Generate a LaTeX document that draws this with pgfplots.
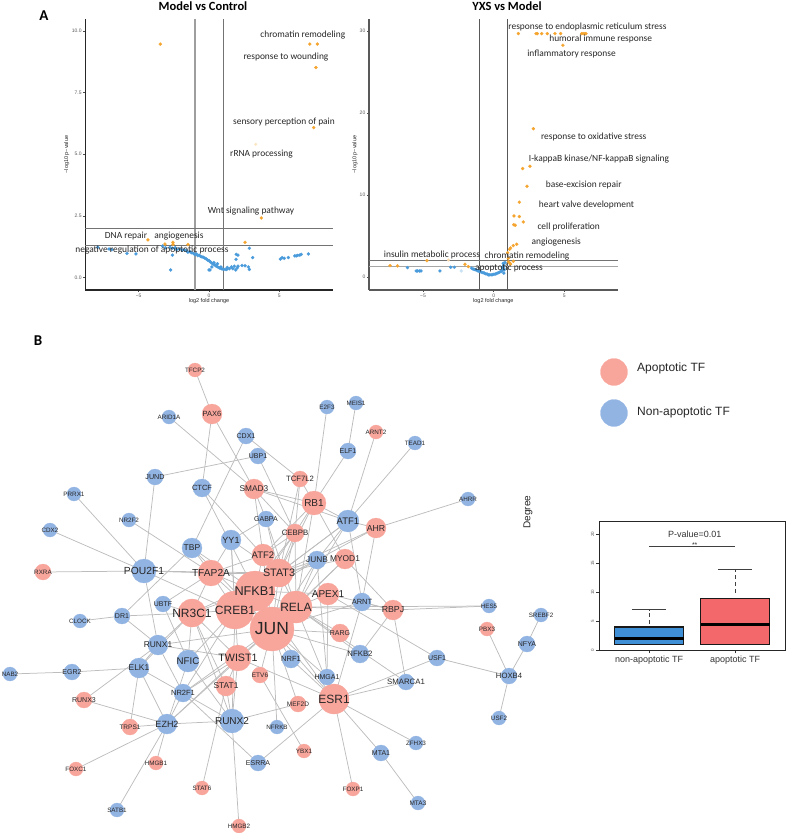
\documentclass[border=0pt]{standalone}
\usepackage{fontspec}
\usepackage{pgfplots}
\usepackage{pgfplotstable}
\pgfplotsset{compat=1.18}
\setmainfont{Liberation Sans}
\newfontfamily\calibri{Carlito}
\definecolor{nred}{HTML}{F8A59C}
\definecolor{nblue}{HTML}{92B4E3}
\definecolor{vor}{HTML}{F5A52F}
\definecolor{vbl}{HTML}{4A9BDB}
\definecolor{bxb}{HTML}{3F8FD6}
\definecolor{bxr}{HTML}{F2686B}
\definecolor{edge}{HTML}{BDBDBD}
\pgfplotstableread{
x y r fs name
195 370 7 6.3 TFCP2
212 414 10 7.5 PAX6
254 489 10 8.3 SMAD3
263 555 11 9.5 ATF2
295 533 9 7.8 CEBPB
300 479 8 7.7 TCF7L2
314 503 12 10 RB1
376 528 10 8.7 AHR
376 432 7 6.3 ARNT2
345 559 10 8.4 MYOD1
279 573 14 10.8 STAT3
211 573 13 10.2 TFAP2A
43 572 8 6.3 RXRA
255 591 20 12.7 NFKB1
296 607 16 12 RELA
235 610 19 12 CREB1
192 613 14 12 NR3C1
272 629 22 17.5 JUN
328 594 11 10 APEX1
393 610 10 8.8 RBPJ
340 633 9 7 RARG
238 658 13 10.7 TWIST1
226 686 10 8.4 STAT1
260 675 8 6.5 ETV6
298 704 8 6.5 MEF2D
334 699 15 12 ESR1
304 751 7 6.3 YBX1
353 789 7 6.3 FOXP1
487 629 7 6.3 PBX3
84 700 8 7 RUNX3
130 727 8 6.5 TRPS1
156 763 7 6.3 HMGB1
76 769 7 6.3 FOXC1
202 788 7 6.3 STAT6
239 826 7 6.3 HMGB2
}\redtable
\pgfplotstableread{
x y r fs name
169 417 7 6.3 ARID1A
246 436 8 7 CDX1
258 456 8 7 UBP1
155 477 8 7.2 JUND
202 488 9 7.5 CTCF
74 494 7 6.3 PRRX1
129 520 7 6.3 NR2F2
50 530 7 6.3 CDX2
266 519 8 7 GABPA
231 540 10 9 YY1
192 548 10 8.5 TBP
144 571 12 10.3 POU2F1
327 407 7 6.3 E2F3
356 403 7 6.3 MEIS1
348 451 8 7 ELF1
415 443 7 6.3 TEAD1
468 499 7 6.3 AHRR
348 521 11 9.5 ATF1
317 560 9 8.3 JUNB
362 602 9 7.5 ARNT
489 606 7 6.3 HES5
541 615 7 6.3 SREBF2
527 644 8 7 NFYA
437 658 8 7 USF1
509 676 8 7.7 HOXB4
406 682 8 7.8 SMARCA1
499 718 7 6.3 USF2
360 654 9 7.8 NFKB2
291 659 9 7.5 NRF1
327 677 8 7 HMGA1
416 743 7 6.3 ZFHX3
381 753 8 7 MTA1
418 803 7 6.5 MTA3
163 604 8 7 UBTF
122 616 8 7 DR1
80 621 7 6.3 CLOCK
158 645 10 8.4 RUNX1
188 661 11 9.7 NFIC
139 668 10 8.4 ELK1
72 672 8 7 EGR2
10 674 7 6.3 NAB2
183 693 9 7.5 NR2F1
167 724 10 9 EZH2
232 721 12 10 RUNX2
277 727 7 6.3 NFRKB
258 763 8 7 ESRRA
117 810 7 6.3 SATB1
}\bluetable
\pgfplotstableread{
x1 y1 x2 y2
195 370 212 414
212 414 202 488
212 414 254 489
169 417 254 489
246 436 192 548
246 436 300 479
258 456 155 477
258 456 295 533
155 477 144 571
74 494 144 571
50 530 144 571
43 572 144 571
129 520 211 573
144 571 211 573
144 571 279 573
144 571 272 629
202 488 279 573
202 488 255 591
254 489 266 519
254 489 314 503
254 489 295 533
254 489 263 555
254 489 348 521
300 479 279 573
300 479 295 533
300 479 314 503
327 407 314 503
348 451 314 503
356 403 348 451
376 432 348 521
415 443 348 521
468 499 376 528
314 503 348 521
314 503 279 573
314 503 345 559
314 503 263 555
314 503 295 533
314 503 296 607
348 521 376 528
348 521 317 560
348 521 279 573
348 521 296 607
348 521 255 591
348 521 362 602
376 528 279 573
376 528 362 602
376 528 317 560
266 519 231 540
266 519 279 573
266 519 296 607
231 540 211 573
231 540 279 573
231 540 235 610
231 540 238 658
192 548 211 573
192 548 272 629
192 548 255 591
192 548 122 616
263 555 211 573
263 555 272 629
263 555 255 591
263 555 295 533
295 533 272 629
295 533 279 573
295 533 255 591
295 533 296 607
295 533 235 610
279 573 272 629
279 573 296 607
279 573 255 591
279 573 235 610
279 573 211 573
279 573 192 613
345 559 272 629
345 559 279 573
345 559 296 607
345 559 393 610
317 560 296 607
317 560 272 629
317 560 255 591
317 560 279 573
317 560 235 610
317 560 327 677
211 573 255 591
211 573 235 610
211 573 272 629
211 573 192 613
211 573 163 604
255 591 272 629
255 591 296 607
255 591 235 610
255 591 192 613
255 591 328 594
235 610 272 629
235 610 192 613
235 610 232 721
235 610 183 693
235 610 296 607
296 607 272 629
296 607 328 594
296 607 393 610
296 607 489 606
393 610 489 606
296 607 360 654
296 607 340 633
296 607 334 699
328 594 437 658
328 594 393 610
328 594 327 677
362 602 334 699
362 602 272 629
362 602 393 610
272 629 340 633
272 629 360 654
296 607 406 682
272 629 291 659
272 629 327 677
272 629 334 699
272 629 298 704
272 629 260 675
272 629 238 658
272 629 158 645
272 629 277 727
272 629 183 693
272 629 167 724
192 613 122 616
122 616 80 621
122 616 158 645
163 604 188 661
163 604 192 613
192 613 188 661
192 613 158 645
192 613 139 668
192 613 226 686
192 613 232 721
192 613 238 658
144 571 158 645
158 645 139 668
158 645 183 693
158 645 238 658
188 661 232 721
188 661 167 724
188 661 235 610
139 668 72 672
72 672 10 674
139 668 183 693
139 668 167 724
139 668 130 727
84 700 158 645
84 700 167 724
130 727 167 724
167 724 156 763
167 724 76 769
167 724 117 810
167 724 232 721
167 724 238 658
167 724 183 693
183 693 238 658
183 693 232 721
183 693 258 763
226 686 202 788
226 686 238 658
232 721 238 658
232 721 239 826
232 721 298 704
232 721 226 686
258 763 334 699
260 675 304 751
238 658 334 699
255 591 334 699
334 699 327 677
334 699 291 659
334 699 381 753
334 699 416 743
334 699 353 789
334 699 437 658
334 699 406 682
381 753 418 803
393 610 360 654
393 610 406 682
437 658 509 676
509 676 487 629
509 676 527 644
527 644 541 615
509 676 499 718
}\edgetable
\pgfplotsset{
  vol/.style={
    scale only axis, axis x line=bottom, axis y line=left,
    axis line style={-, line width=1.3pt}, clip=false,
    tick align=outside, tick style={black!70, line width=.4pt}, major tick length=2pt,
    /pgf/number format/assume math mode=true,
    ticklabel style={font=\fontsize{5}{5}\selectfont, text=black!65, inner sep=1.5pt},
    label style={font=\fontsize{5.5}{5.5}\selectfont, text=black!85, inner sep=0pt},
  },
  vdot/.style={only marks, mark=*, mark size=#1, forget plot},
}
% one mark per table row, its size read from the table
\newcommand\nodemarks[2]{%
  \pgfplotstablegetrowsof{#1}%
  \pgfmathtruncatemacro{\nrows}{\pgfplotsretval-1}%
  \pgfplotsinvokeforeach{0,...,\nrows}{%
    \pgfplotstablegetelem{##1}{x}\of{#1}\edef\nx{\pgfplotsretval}%
    \pgfplotstablegetelem{##1}{y}\of{#1}\edef\ny{\pgfplotsretval}%
    \pgfplotstablegetelem{##1}{r}\of{#1}\edef\nr{\pgfplotsretval}%
    \edef\temp{\noexpand\addplot[only marks, mark=*, mark size=\nr pt, mark options={draw=#2, fill=#2, line width=.25pt}, forget plot] coordinates {(\nx,\ny)};}%
    \temp
  }%
}
\newcommand\nodelabels[1]{%
  \pgfplotstablegetrowsof{#1}%
  \pgfmathtruncatemacro{\nrows}{\pgfplotsretval-1}%
  \pgfplotsinvokeforeach{0,...,\nrows}{%
    \pgfplotstablegetelem{##1}{x}\of{#1}\edef\nx{\pgfplotsretval}%
    \pgfplotstablegetelem{##1}{y}\of{#1}\edef\ny{\pgfplotsretval}%
    \pgfplotstablegetelem{##1}{fs}\of{#1}\edef\nf{\pgfplotsretval}%
    \pgfplotstablegetelem{##1}{name}\of{#1}\edef\nn{\pgfplotsretval}%
    \edef\temp{\noexpand\node[inner sep=0pt, text=black!85, font=\noexpand\rmfamily\noexpand\fontsize{\nf}{\nf}\noexpand\selectfont] at (axis cs:\nx,\ny) {\nn};}%
    \temp
  }%
}
\begin{document}
\begin{tikzpicture}
\useasboundingbox (0pt,0pt) rectangle (787pt,833pt);
% full-page axis for the network (pixel coordinates)
\begin{axis}[at={(0pt,0pt)}, anchor=south west, scale only axis, width=787pt, height=833pt,
  xmin=0, xmax=787, ymin=0, ymax=833, y dir=reverse, hide axis, clip=false]
\pgfplotstablegetrowsof{\edgetable}
\pgfmathtruncatemacro{\nedges}{\pgfplotsretval-1}
\pgfplotsinvokeforeach{0,...,\nedges}{
  \pgfplotstablegetelem{#1}{x1}\of{\edgetable}\edef\xa{\pgfplotsretval}
  \pgfplotstablegetelem{#1}{y1}\of{\edgetable}\edef\ya{\pgfplotsretval}
  \pgfplotstablegetelem{#1}{x2}\of{\edgetable}\edef\xb{\pgfplotsretval}
  \pgfplotstablegetelem{#1}{y2}\of{\edgetable}\edef\yb{\pgfplotsretval}
  \edef\temp{\noexpand\addplot[edge, line width=.75pt, forget plot] coordinates {(\xa,\ya)(\xb,\yb)};}
  \temp
}
\nodemarks{\redtable}{nred}
\nodemarks{\bluetable}{nblue}
% legend symbols
\addplot[only marks, mark=*, mark size=13.5pt, mark options={draw=nred, fill=nred, line width=.25pt}, forget plot] coordinates {(614,372)};
\addplot[only marks, mark=*, mark size=13.5pt, mark options={draw=nblue, fill=nblue, line width=.25pt}, forget plot] coordinates {(614,413)};
% panel letters and headings
\node[font=\calibri\bfseries\fontsize{15}{15}\selectfont] at (axis cs:44,16) {A};
\node[font=\calibri\bfseries\fontsize{15}{15}\selectfont] at (axis cs:38,341) {B};
\node[font=\calibri\bfseries\fontsize{12.5}{12.5}\selectfont] at (axis cs:203,6) {Model vs Control};
\node[font=\calibri\bfseries\fontsize{12.5}{12.5}\selectfont] at (axis cs:507,6) {YXS vs Model};
% legend text
\node[anchor=west, inner sep=0pt, font=\fontsize{12}{12}\selectfont, text=black!85] at (axis cs:637,368) {Apoptotic TF};
\node[anchor=west, inner sep=0pt, font=\fontsize{12}{12}\selectfont, text=black!85] at (axis cs:637,412) {Non-apoptotic TF};
\node[rotate=90, font=\fontsize{10}{10}\selectfont, text=black!85] at (axis cs:528,512) {Degree};
\end{axis}
% Volcano left
\begin{axis}[vol, at={(85.3pt,543pt)}, anchor=south west, width=247.4pt, height=271pt,
  xmin=-8.79, xmax=8.79, ymin=-0.515, ymax=10.49,
  xtick={-5,0,5}, xticklabels={−5,0,5}, ytick={0,2.5,5,7.5,10},
  yticklabels={0.0,2.5,5.0,7.5,10.0},
  xlabel={log2 fold change}, ylabel={−log10 p−value},
  every axis x label/.append style={at={(axis description cs:0.5,-0.0395)}, anchor=center},
  every axis y label/.append style={at={(axis description cs:-0.075,0.5)}, anchor=center},
  axis line style={black!85}]
\addplot[black!38, line width=1.4pt] coordinates {(-1,-0.515)(-1,10.49)};
\addplot[black!55, line width=1pt] coordinates {(1,-0.515)(1,10.49)};
\addplot[black!55, line width=.8pt] coordinates {(-8.79,2)(8.79,2)};
\addplot[black!55, line width=.8pt] coordinates {(-8.79,1.3)(8.79,1.3)};
\addplot[vdot=1.6pt, mark options={draw=vor, fill=vor, line width=.2pt}] coordinates {
(-3.46,9.47)(7.16,9.47)(7.7,9.47)(7.6,8.52)(7.44,6.08)(3.72,2.41)(2.56,1.42)(-4.34,1.52)(-3.13,1.35)(-2.56,1.42)(-2.56,1.34)(-1.49,1.33)};
\addplot[vdot=1.4pt, mark options={draw=vor!30, fill=vor!30, line width=.2pt}] coordinates {(3.32,5.4)};
\addplot[vdot=1.6pt, mark options={draw=vbl, fill=vbl, line width=.2pt}] coordinates {
(-7.9,1.22)(-7.1,1.15)(-6.9,1.12)(-5.83,0.97)(-5.19,0.95)(-2.73,0.3)(-2.6,0.9)(-3.3,1.27)(-3.1,1.2)(-2.77,1.22)(-2.6,1.18)(-2.4,1.2)(-2.3,1.12)(-2.1,1.15)(-1.9,1.1)(-1.75,1.12)(-1.6,1.08)(-1.5,1.02)(-1.35,1.04)(-1.25,1.0)(-1.1,0.97)(-1.0,0.92)(-0.9,0.95)(-0.8,0.88)(-0.7,0.9)(-0.6,0.85)(-0.5,0.83)(-0.4,0.81)(-0.3,0.78)(-0.2,0.75)(-0.1,0.7)(0,0.68)(0.07,0.64)(0.15,0.6)(0.25,0.55)(0.2,0.42)(0.35,0.52)(0.43,0.5)(0.5,0.46)(0.6,0.43)(0.7,0.4)(0.78,0.37)(0.85,0.42)(0.9,0.35)(1.0,0.33)(1.14,0.32)(1.25,0.32)(1.3,0.4)(1.45,0.35)(1.6,0.42)(1.7,0.35)(1.8,0.45)(1.9,0.3)(2.0,0.38)(2.06,0.45)(2.56,0.47)(2.35,0.48)(2.87,0.32)(2.8,0.42)(1.94,0.93)(2.06,0.9)(1.92,0.73)(2.87,1.18)(3.1,0.8)(0.07,0.3)(0,0.3)(0.6,0.55)(0.35,0.6)(5.07,0.74)(5.2,0.8)(5.35,0.77)(5.64,0.8)(6.1,0.87)(6.2,0.87)(6.3,0.89)(6.45,0.9)(6.55,0.93)(7.06,0.95)};
\end{axis}
% Volcano right
\begin{axis}[vol, at={(369pt,543pt)}, anchor=south west, width=248.7pt, height=271pt,
  xmin=-8.82, xmax=8.78, ymin=-1.55, ymax=31.46,
  xtick={-5,0,5}, xticklabels={−5,0,5}, ytick={0,10,20,30},
  xlabel={log2 fold change}, ylabel={−log10 p−value},
  every axis x label/.append style={at={(axis description cs:0.5,-0.0395)}, anchor=center},
  every axis y label/.append style={at={(axis description cs:-0.056,0.5)}, anchor=center},
  axis line style={black!65}]
\addplot[black!65, line width=.8pt] coordinates {(-1,-1.55)(-1,31.46)};
\addplot[black!65, line width=.8pt] coordinates {(1,-1.55)(1,31.46)};
\addplot[black!55, line width=.8pt] coordinates {(-8.82,2)(8.78,2)};
\addplot[black!35, line width=1.2pt] coordinates {(-8.82,1.3)(8.78,1.3)};
\addplot[vdot=1.6pt, mark options={draw=vor, fill=vor, line width=.2pt}] coordinates {
(1.75,29.68)(3.0,29.68)(3.09,29.68)(3.4,29.68)(3.8,29.68)(4.34,29.68)(4.74,29.68)(6.23,29.68)(6.34,29.68)(6.46,29.68)(6.53,29.68)(4.9,28.26)(2.81,18.1)(2.57,13.52)(2.05,13.24)(2.36,11.08)(1.82,9.14)(1.44,7.47)(1.82,7.39)(2.1,6.74)(1.42,6.41)(1.53,6.33)(1.63,4.02)(1.39,3.86)(1.2,3.57)(1.13,3.41)(0.99,3.0)(1.04,2.31)(1.39,1.95)(1.16,1.7)(1.05,1.9)(1.2,1.6)(-4.72,2.03)(-2.03,1.58)(-1.79,1.3)(-7.33,1.42)(-6.8,1.38)};
\addplot[vdot=1.4pt, mark options={draw=vor!40, fill=vor!40, line width=.2pt}] coordinates {(-3.2,2.1)};
\addplot[vdot=1.6pt, mark options={draw=vbl!30, fill=vbl!30, line width=.2pt}] coordinates {(-2.29,.77)};
\addplot[vdot=1.6pt, mark options={draw=vbl, fill=vbl, line width=.2pt}] coordinates {
(-6.1,1.18)(-5.48,.77)(-5.38,.77)(-5.25,.77)(-5.14,.77)(-3.8,.77)(-3.04,1.22)(-2.78,1.22)(-1.56,1.1)(-1.45,1.0)(-1.35,.95)(-1.25,.9)(-1.15,.8)(-1.05,.75)(-.95,.68)(-.85,.62)(-.75,.55)(-.65,.5)(-.55,.42)(-.45,.38)(-.38,.3)(-.28,.3)(-.18,.3)(-.08,.32)(.02,.36)(.12,.4)(.22,.45)(.32,.55)(.42,.62)(.52,.7)(.6,.8)(.68,.95)(.72,1.1)(.68,1.3)(.68,1.7)(.72,1.5)(.62,1.2)(.75,.9)(.72,.5)(.8,1.8)};
\end{axis}
% Boxplot
\begin{axis}[at={(599.3pt,182.7pt)}, anchor=south west, scale only axis, width=185.7pt, height=128.6pt,
  xmin=0.42, xmax=2.58, ymin=0, ymax=22.2, clip=false,
  xtick={1,2}, xticklabels={non-apoptotic TF,apoptotic TF},
  ytick={0,5,10,15,20}, tick align=outside, major tick length=3pt,
  tick style={black!80, line width=.6pt}, xtick pos=bottom, ytick pos=left,
  /pgf/number format/assume math mode=true,
  xticklabel style={font=\fontsize{9}{9}\selectfont, text=black!80, inner sep=2pt, yshift=-.5pt},
  yticklabel style={font=\fontsize{4.5}{4.5}\selectfont, rotate=90, anchor=south, text=black!65, inner sep=2pt},
  axis line style={black!85, line width=.8pt}]
\addplot[fill=bxb, draw=black!90, line width=1.3pt] coordinates {(.6,1)(1.4,1)(1.4,4)(.6,4)} --cycle;
\addplot[fill=bxr, draw=black!90, line width=1.3pt] coordinates {(1.6,1)(2.4,1)(2.4,9)(1.6,9)} --cycle;
\addplot[black, line width=2.6pt] coordinates {(.6,2)(1.4,2)};
\addplot[black, line width=2.6pt] coordinates {(1.6,4.5)(2.4,4.5)};
\addplot[black!75, line width=1.1pt, dashed, dash pattern=on 4pt off 3pt] coordinates {(1,4.5)(1,7)};
\addplot[black!75, line width=1.1pt, dashed, dash pattern=on 4pt off 3pt] coordinates {(2,9.9)(2,14)};
\addplot[black!75, line width=1.1pt] coordinates {(.8,7)(1.2,7)};
\addplot[black!75, line width=1.1pt] coordinates {(1.8,14)(2.2,14)};
\addplot[black!75, line width=1.3pt] coordinates {(1,17.87)(2,17.87)};
\node[font=\fontsize{9}{9}\selectfont, text=black!80] at (axis cs:1.53,20) {P-value=0.01};
\node[font=\fontsize{7}{7}\selectfont, text=black!80] at (axis cs:1.53,18.2) {**};
\end{axis}
% Annotations and network labels (drawn last, above the marks)
\begin{axis}[at={(0pt,0pt)}, anchor=south west, scale only axis, width=787pt, height=833pt,
  xmin=0, xmax=787, ymin=0, ymax=833, y dir=reverse, hide axis, clip=false,
  nodes={inner sep=0pt, text=black!85}]
\addplot[draw=none, forget plot] coordinates {(0,0)};
\nodelabels{\redtable}
\nodelabels{\bluetable}
\tikzset{ann/.style={font=\calibri\fontsize{9.4}{9.4}\selectfont}}
\node[ann] at (axis cs:302.8,34.7) {chromatin remodeling};
\node[ann] at (axis cs:286,57.3) {response to wounding};
\node[ann] at (axis cs:284,122) {sensory perception of pain};
\node[ann] at (axis cs:261.5,153.7) {rRNA processing};
\node[ann] at (axis cs:251,211) {Wnt signaling pathway};
\node[ann] at (axis cs:126,236) {DNA repair};
\node[ann] at (axis cs:179,236) {angiogenesis};
\node[ann] at (axis cs:152,249.7) {negative regulation of apoptotic process};
\node[ann] at (axis cs:587.5,27) {response to endoplasmic reticulum stress};
\node[ann] at (axis cs:600.7,38.7) {humoral immune response};
\node[ann] at (axis cs:571.5,53.7) {inflammatory response};
\node[ann] at (axis cs:593.7,137) {response to oxidative stress};
\node[ann] at (axis cs:599,159.5) {I-kappaB kinase/NF-kappaB signaling};
\node[ann] at (axis cs:583.7,185) {base-excision repair};
\node[ann] at (axis cs:586.5,204.7) {heart valve development};
\node[ann] at (axis cs:568.7,227) {cell proliferation};
\node[ann] at (axis cs:556.3,242) {angiogenesis};
\node[ann] at (axis cs:432,255) {insulin metabolic process};
\node[ann] at (axis cs:527,256) {chromatin remodeling};
\node[ann] at (axis cs:509,267.7) {apoptotic process};
\end{axis}
\end{tikzpicture}
\end{document}
